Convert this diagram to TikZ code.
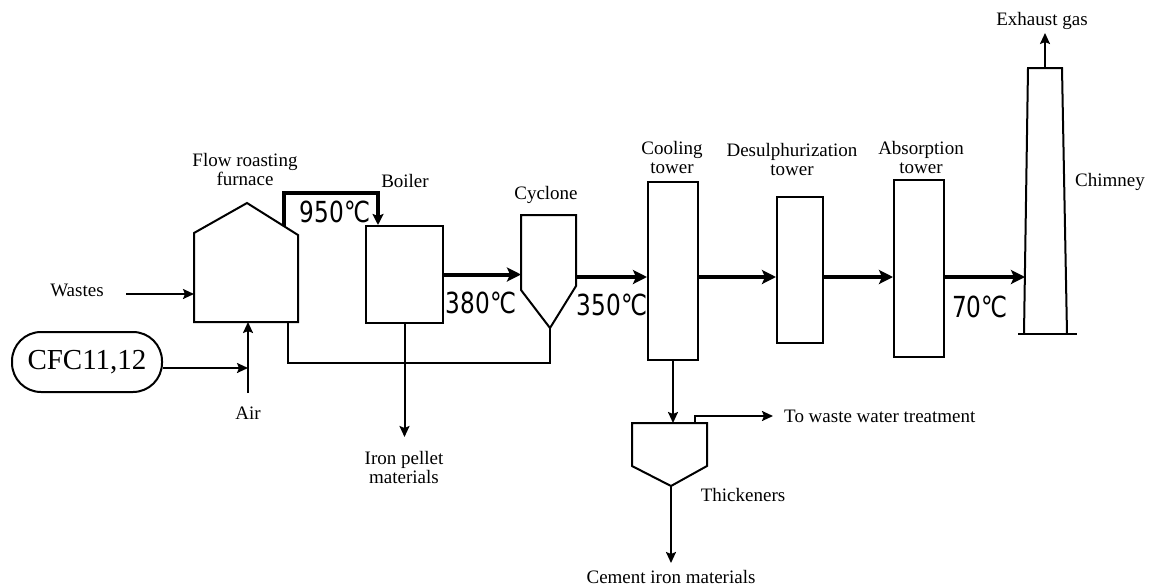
\documentclass[tikz,border=0pt]{standalone}
\usepackage{fontspec}
\setmainfont{Liberation Serif}
\newfontfamily\tempfont[FakeStretch=0.8]{DejaVu Sans}
\usetikzlibrary{arrows.meta}

\tikzset{
  unit/.style={draw, line width=2pt, inner sep=0pt},
  pipe/.style={line width=2pt},
  feed/.style={pipe, -{Stealth[length=11pt,width=10pt,inset=2pt]}},
  flow/.style={line width=4pt, -{Stealth[length=14pt,width=14pt,inset=3pt]}},
  lbl/.style={font=\fontsize{19}{19}\selectfont, align=center, inner sep=0pt},
  temp/.style={font=\tempfont\fontsize{29}{29}\selectfont, inner sep=0pt},
}

\begin{document}
\begin{tikzpicture}[x=1pt, y=-1pt, line join=miter]

\useasboundingbox (0,0) rectangle (1149,587);

%% ---------- furnace, fed with wastes, CFC and air ----------
\draw[unit] (194,322) -- (194,233) -- (247,203) -- (298,235) -- (298,322) -- cycle;
\coordinate (furnIn)  at (194,294);
\coordinate (furnAir) at (248,322);
\coordinate (furnAsh) at (288,322);
\coordinate (furnTop) at (284,226);
\node[lbl] (furnLbl) at (245,169) {Flow roasting\\furnace};

\node[lbl] (wastes) at (77,290) {Wastes};
\coordinate (wastesEnd) at (126,294);
\draw[feed] (wastesEnd) -- (furnIn);

\node[draw, line width=2pt, rounded corners=29pt, minimum width=150pt,
      minimum height=60pt, font=\fontsize{29}{29}\selectfont] (cfc) at (87,362) {CFC11,12};
\coordinate (airJoin) at (248,368);
\coordinate (airEnd)  at (248,393);
\draw[feed] (cfc.east |- airJoin) -- (airJoin);
\draw[feed] (airEnd) -- (furnAir);
\node[lbl] (air) at (248,413) {Air};

%% ---------- the process line ----------
\foreach \name/\x/\y/\w/\h in {boiler/404.5/274.5/77/97, cooling/673/271/50/178,
    desulph/800/270/46/146, absorb/919/268.5/50/177} {
  \node[unit, minimum width=\w pt, minimum height=\h pt] (\name) at (\x,\y) {};
}
\node[lbl] (boilerLbl)  at (405,181) {Boiler};
\node[lbl] (coolLbl)    at (672,157) {Cooling\\tower};
\node[lbl] (desulphLbl) at (792,159) {Desulphurization\\tower};
\node[lbl] (absorbLbl)  at (921,157) {Absorption\\tower};

%% hot gas duct from the furnace roof into the boiler
\coordinate (ductTop) at (378,193);
\draw[line width=4.5pt, -{Stealth[length=11pt,width=11pt,inset=2pt]}]
  (furnTop) |- (ductTop) -- (ductTop |- boiler.north);
\node[temp] (t950) at (335,212) {950℃};

%% cyclone
\draw[unit] (521,215) -- (576,215) -- (576,286) -- (550,328) -- (521,290) -- cycle;
\coordinate (cycIn)   at (521,274.5);
\coordinate (cycOut)  at (576,277);
\coordinate (cycApex) at (550,328);
\node[lbl] (cycLbl) at (546,195) {Cyclone};

\draw[flow] (boiler.east) -- (cycIn);
\node[temp] (t380) at (481,303) {380℃};
\draw[flow] (cycOut) -- (cycOut -| cooling.west);
\node[temp] (t350) at (612,305) {350℃};
\draw[flow] (cooling.east |- cycOut) -- (cycOut -| desulph.west);
\draw[flow] (desulph.east |- cycOut) -- (cycOut -| absorb.west);

%% dust return from the cyclone back to the furnace
\draw[pipe] (cycApex) -- ++(0,35) -| (furnAsh);

%% boiler discharge
\coordinate (pelletEnd) at (404.5,437);
\draw[feed] (boiler.south) -- (pelletEnd);
\node[lbl] (pellet) at (404,467) {Iron pellet\\materials};

%% ---------- chimney ----------
\draw[unit] (1024,334) -- (1028,68) -- (1062,68) -- (1067,334);
\draw[unit] (1018,334) -- (1077,334);
\coordinate (chimIn)  at (1025,277);
\coordinate (chimTop) at (1045,68);
\coordinate (exhEnd)  at (1045,33);
\draw[flow] (absorb.east |- cycOut) -- (chimIn);
\node[temp] (t70) at (980,307) {70℃};
\draw[feed] (chimTop) -- (exhEnd);
\node[lbl] (exhaust) at (1042,21) {Exhaust gas};
\node[lbl] (chimLbl) at (1110,182) {Chimney};

%% ---------- thickener below the cooling tower ----------
\draw[unit] (632,423) -- (707,423) -- (707,466) -- (671,486) -- (632,466) -- cycle;
\coordinate (thickTop)  at (673,423);
\coordinate (thickApex) at (671,486);
\coordinate (overflow)  at (695,423);
\coordinate (wwEnd)     at (773,416);
\coordinate (cementEnd) at (671,563);
\draw[feed] (cooling.south) -- (thickTop);
\draw[feed] (overflow) |- (wwEnd);
\node[lbl, anchor=west] (wwLbl) at (784,416) {To waste water treatment};
\draw[feed] (thickApex) -- (cementEnd);
\node[lbl] (thickLbl)  at (743,495) {Thickeners};
\node[lbl] (cementLbl) at (671,577) {Cement iron materials};

\end{tikzpicture}
\end{document}
